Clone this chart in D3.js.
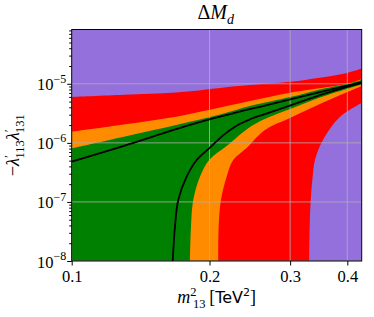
<!DOCTYPE html>
<html>
<head>
<meta charset="utf-8">
<script src="https://cdn.jsdelivr.net/npm/d3@7"></script>
<style>
body { margin: 0; background: #fff; }
text { font-family: "Liberation Serif", serif; fill: #000; }
</style>
</head>
<body>
<svg id="canvas"></svg>
<script>
// boundaries as [m13^2 (TeV^2), -lambda'113 lambda'131]
const redTop = [[0.1, 5.96e-6], [0.13, 6.5e-6], [0.169, 7.1e-6], [0.211, 8.5e-6], [0.245, 9.5e-6],
                [0.30, 1.08e-5], [0.348, 1.27e-5], [0.40, 1.53e-5], [0.43, 1.81e-5]]
const orangeTop = [[0.1, 1.54e-6], [0.13, 2.04e-6], [0.169, 2.77e-6], [0.211, 3.95e-6], [0.245, 5.1e-6],
                   [0.30, 7.05e-6], [0.405, 1.02e-5], [0.43, 1.2e-5]]
const greenTop = [[0.1, 8.07e-7], [0.13, 1.27e-6], [0.169, 2.0e-6], [0.211, 3.01e-6], [0.245, 4.19e-6],
                  [0.30, 5.96e-6], [0.343, 7.8e-6], [0.405, 1.02e-5], [0.43, 1.16e-5]]
const greenLow = [[0.1813, 1e-8], [0.1822, 3.81e-8], [0.1843, 1.08e-7], [0.1906, 2.67e-7], [0.1997, 5.12e-7],
                  [0.218, 8.83e-7], [0.2451, 1.85e-6], [0.2642, 2.53e-6], [0.2997, 3.73e-6],
                  [0.3486, 5.84e-6], [0.4052, 8.46e-6], [0.43, 9.69e-6]]
const orangeLow = [[0.209, 1e-8], [0.2094, 3.81e-8], [0.2118, 1.08e-7], [0.218, 2.67e-7], [0.2253, 5.12e-7],
                   [0.241, 8.17e-7], [0.2642, 1.65e-6], [0.2997, 2.63e-6], [0.3486, 4.54e-6],
                   [0.4052, 7.52e-6], [0.43, 9.14e-6]]
const redLow = [[0.3303, 1e-8], [0.331, 3.81e-8], [0.3326, 1.01e-7], [0.336, 2.67e-7], [0.3399, 5.12e-7],
                [0.3539, 1.12e-6], [0.3853, 2.73e-6], [0.43, 4.72e-6]]
const upperLine = [[0.1, 4.8e-7], [0.13, 8.9e-7], [0.169, 1.71e-6], [0.2, 2.5e-6], [0.271, 4.5e-6], [0.43, 1.07e-5]]
const lowerLine = [[0.1662, 1e-8], [0.1681, 3.81e-8], [0.1709, 1.08e-7], [0.1783, 2.67e-7], [0.1875, 5.12e-7],
                   [0.2004, 8.3e-7], [0.2145, 1.35e-6], [0.2292, 1.95e-6], [0.2451, 2.5e-6], [0.2642, 3.07e-6],
                   [0.2997, 4.28e-6], [0.3486, 6.44e-6], [0.4052, 9.14e-6], [0.43, 1.03e-5]]

const xTicks = [0.1, 0.2, 0.3, 0.4]
const yExps = [-8, -7, -6, -5]

let width = 374
let height = 317
let plotL = 71.7, plotR = 361.7, plotT = 29.5, plotB = 261

const xMin = 0.1, xMax = 0.43, yMin = 1e-8, yMax = 8.3e-5

const svg = d3.select('#canvas')
    .attr('width', width)
    .attr('height', height)

const x = d3.scaleLog().domain([xMin, xMax]).range([plotL, plotR])
const y = d3.scaleLog().domain([yMin, yMax]).range([plotB, plotT])

svg.append('clipPath').attr('id', 'plot')
    .append('rect')
    .attr('x', plotL).attr('y', plotT)
    .attr('width', plotR - plotL).attr('height', plotB - plotT)

const area = svg.append('g').attr('clip-path', 'url(#plot)')

const smooth = d3.line()
    .x(d => x(d[0]))
    .y(d => y(d[1]))
    .curve(d3.curveCatmullRom.alpha(0.5))

// band: from bottom-left corner, along the upper boundary, then back along the lower one
function band(upper, lower) {
    const a = smooth(upper)
    const b = smooth(lower.slice().reverse())
    return 'M' + x(xMin) + ',' + y(yMin) + 'L' + a.slice(1) + 'L' + b.slice(1) + 'Z'
}

area.append('rect')
    .attr('x', plotL).attr('y', plotT)
    .attr('width', plotR - plotL).attr('height', plotB - plotT)
    .attr('fill', '#9370db')

area.append('path').attr('d', band(redTop, redLow)).attr('fill', '#ff0000')
area.append('path').attr('d', band(orangeTop, orangeLow)).attr('fill', '#ff8c00')
area.append('path').attr('d', band(greenTop, greenLow)).attr('fill', '#008000')

// grid
area.selectAll('.gx').data(xTicks).enter().append('line')
    .attr('x1', d => x(d)).attr('x2', d => x(d))
    .attr('y1', plotT).attr('y2', plotB)
    .attr('stroke', '#b0b0b0').attr('stroke-width', 0.8)
area.selectAll('.gy').data(yExps).enter().append('line')
    .attr('x1', plotL).attr('x2', plotR)
    .attr('y1', d => y(Math.pow(10, d))).attr('y2', d => y(Math.pow(10, d)))
    .attr('stroke', '#b0b0b0').attr('stroke-width', 0.8)

area.append('path').attr('d', smooth(upperLine))
    .attr('fill', 'none').attr('stroke', '#000').attr('stroke-width', 1.8)
area.append('path').attr('d', smooth(lowerLine))
    .attr('fill', 'none').attr('stroke', '#000').attr('stroke-width', 1.8)

// axes
let xAxis = d3.axisBottom(x).tickValues(xTicks).tickFormat(d3.format('.1f')).tickSize(4.5).tickSizeOuter(0).tickPadding(5)
const gx = svg.append('g')
    .attr('transform', 'translate(0,' + plotB + ')')
    .call(xAxis)
gx.select('.domain').remove()
gx.selectAll('text').attr('font-size', 16.5).attr('font-family', 'Liberation Serif').attr('fill', '#000')

const minor = []
yExps.concat([-4]).forEach(e => {
    for (let k = 2; k <= 9; k++) {
        const v = k * Math.pow(10, e)
        if (v < yMax) minor.push(v)
    }
})
const gyMinor = svg.append('g')
    .attr('transform', 'translate(' + plotL + ',0)')
    .call(d3.axisLeft(y).tickValues(minor).tickFormat('').tickSize(2.5).tickSizeOuter(0))
gyMinor.select('.domain').remove()

const gy = svg.append('g')
    .attr('transform', 'translate(' + plotL + ',0)')
    .call(d3.axisLeft(y).tickValues(yExps.map(e => Math.pow(10, e))).tickFormat('').tickSize(4.5).tickSizeOuter(0))
gy.select('.domain').remove()

const yLabels = svg.selectAll('.ylab').data(yExps).enter().append('text')
    .attr('text-anchor', 'end')
    .attr('x', plotL - 5.5)
    .attr('y', d => y(Math.pow(10, d)) + 6.5)
    .attr('font-size', 16.5)
yLabels.append('tspan').text('10')
yLabels.append('tspan').attr('dy', -7.5).attr('font-size', 12).text(d => '\u2212' + Math.abs(d))

// frame
svg.append('rect')
    .attr('x', plotL).attr('y', plotT)
    .attr('width', plotR - plotL).attr('height', plotB - plotT)
    .attr('fill', 'none').attr('stroke', '#000').attr('stroke-width', 1)

// title
const title = svg.append('text')
    .attr('x', (plotL + plotR) / 2 - 1).attr('y', 18.5)
    .attr('text-anchor', 'middle').attr('font-size', 20)
title.append('tspan').text('\u0394')
title.append('tspan').attr('font-style', 'italic').text('M')
title.append('tspan').attr('font-style', 'italic').attr('font-size', 14).attr('dy', 5).text('d')

// x label
const xl = svg.append('text')
    .attr('x', (plotL + plotR) / 2).attr('y', 303)
    .attr('text-anchor', 'middle').attr('font-size', 18)
xl.append('tspan').attr('font-style', 'italic').text('m')
xl.append('tspan').attr('font-size', 12.5).attr('dy', -7.5).text('2')
xl.append('tspan').attr('font-size', 12.5).attr('dx', -3.5).attr('dy', 12).text('13')
xl.append('tspan').attr('dy', -4.5).text('\u2009[')
xl.append('tspan').attr('font-family', 'DejaVu Sans').attr('font-size', 16).text('TeV')
xl.append('tspan').attr('font-family', 'DejaVu Sans').attr('font-size', 11).attr('dy', -7.5).text('2')
xl.append('tspan').attr('dy', 7.5).text(']')

// y label
const yl = svg.append('text')
    .attr('transform', 'translate(19,' + ((plotT + plotB) / 2) + ') rotate(-90)')
    .attr('text-anchor', 'middle').attr('font-size', 18.5)
yl.append('tspan').text('\u2212')
yl.append('tspan').attr('font-style', 'italic').text('\u03bb')
yl.append('tspan').attr('font-size', 13).attr('dy', -6).text('\u2032')
yl.append('tspan').attr('font-size', 12.5).attr('dx', -3.5).attr('dy', 11).text('113')
yl.append('tspan').attr('font-style', 'italic').attr('dy', -5).text('\u03bb')
yl.append('tspan').attr('font-size', 13).attr('dy', -6).text('\u2032')
yl.append('tspan').attr('font-size', 12.5).attr('dx', -3.5).attr('dy', 11).text('131')
</script>
</body>
</html>
